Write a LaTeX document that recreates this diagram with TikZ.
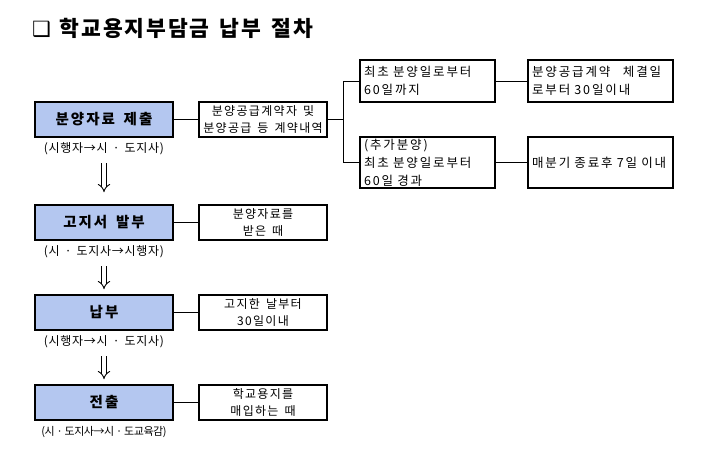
\documentclass[tikz,border=0pt]{standalone}
\usepackage{fontspec}
\setmainfont{Noto Sans CJK KR}[WordSpace=1.5]
\newfontfamily\dingfont{DejaVu Sans}
\usetikzlibrary{arrows.meta}
\definecolor{stepblue}{RGB}{180,199,240}

\begin{document}
\begin{tikzpicture}[x=1pt,y=-1pt,
    mainbox/.style={draw, line width=1.6pt, fill=stepblue, minimum width=138pt,
      minimum height=35pt, inner sep=0pt,
      font=\fontsize{14.5}{17}\selectfont\bfseries\addfontfeature{LetterSpace=14}},
    notebox/.style={draw, line width=1.6pt, fill=white, minimum width=128pt,
      minimum height=35pt, inner sep=0pt, align=center,
      font=\fontsize{12}{17}\selectfont\addfontfeature{LetterSpace=11}},
    leftbox/.style={draw, line width=1.6pt, fill=white, inner sep=0pt, align=left,
      font=\fontsize{12.5}{18}\selectfont\addfontfeature{LetterSpace=15}},
    subnote/.style={anchor=north, inner sep=0pt,
      font=\fontsize{12}{14}\selectfont\addfontfeature{LetterSpace=6}},
    link/.style={line width=0.8pt},
    dblarrow/.style={double, double distance=3.4pt, line width=0.9pt, -{Implies}}
  ]
  \useasboundingbox (0,0) rectangle (708,461);

  \node (title) at (32,28) [anchor=west, inner sep=0pt, font=\fontsize{21.5}{24}\selectfont\bfseries]
    {{\dingfont\fontsize{21}{24}\selectfont ❑}\hspace{0.4em}{\addfontfeature{LetterSpace=9}학교용지부담금 납부 절차}};

  \node (b1) at (104,119.5) [mainbox] {분양자료\hspace{0.6em}제출};
  \node (b2) at (104,222.5) [mainbox] {고지서\hspace{0.6em}발부};
  \node (b3) at (104,312.5) [mainbox] {납부};
  \node (b4) at (104,402.5) [mainbox] {전출};

  \node (s1) at ([yshift=-5pt]b1.south) [subnote] {(시행자→시 · 도지사)};
  \node (s2) at ([yshift=-5pt]b2.south) [subnote] {(시 · 도지사→시행자)};
  \node (s3) at ([yshift=-5pt]b3.south) [subnote] {(시행자→시 · 도지사)};
  \node (s4) at ([yshift=-5pt]b4.south) [subnote, font=\fontsize{11}{14}\selectfont\addfontfeature{LetterSpace=-4}]
    {(시\,·\,도지사→시\,·\,도교육감)};

  \node (m1) at (263,119.5) [notebox] {분양공급계약자 및\\분양공급 등 계약내역};
  \node (m2) at (263,222.5) [notebox] {분양자료를\\받은 때};
  \node (m3) at (263,312.5) [notebox] {고지한 날부터\\30일이내};
  \node (m4) at (263,402.5) [notebox] {학교용지를\\매입하는 때};

  \node (r1) at (427.5,81) [leftbox, minimum width=135pt, minimum height=42pt,
    text width=127pt] {최초 분양일로부터\\60일까지};
  \node (r2) at (427.5,162.5) [leftbox, minimum width=135pt, minimum height=51pt,
    text width=127pt] {(추가분양)\\최초 분양일로부터\\60일 경과};
  \node (f1) at (600.5,81) [leftbox, minimum width=145pt, minimum height=42pt,
    text width=137pt] {분양공급계약\hspace{1.0em}체결일\\로부터 30일이내};
  \node (f2) at (600.5,162.5) [leftbox, minimum width=145pt, minimum height=51pt,
    text width=137pt] {매분기 종료후 7일 이내};

  \coordinate (br) at ([xshift=16pt]m1.east);

  \draw[link] (b1) -- (m1);
  \draw[link] (b2) -- (m2);
  \draw[link] (b3) -- (m3);
  \draw[link] (b4) -- (m4);
  \draw[link] (m1) -- (br) |- (r1);
  \draw[link] (br) |- (r2);
  \draw[link] (r1) -- (f1);
  \draw[link] (r2) -- (f2);

  \draw[dblarrow] ([yshift=-8pt]s1.south) -- ([yshift=12pt]b2.north);
  \draw[dblarrow] ([yshift=-8pt]s2.south) -- ([yshift=5pt]b3.north);
  \draw[dblarrow] ([yshift=-8pt]s3.south) -- ([yshift=5pt]b4.north);
\end{tikzpicture}
\end{document}
